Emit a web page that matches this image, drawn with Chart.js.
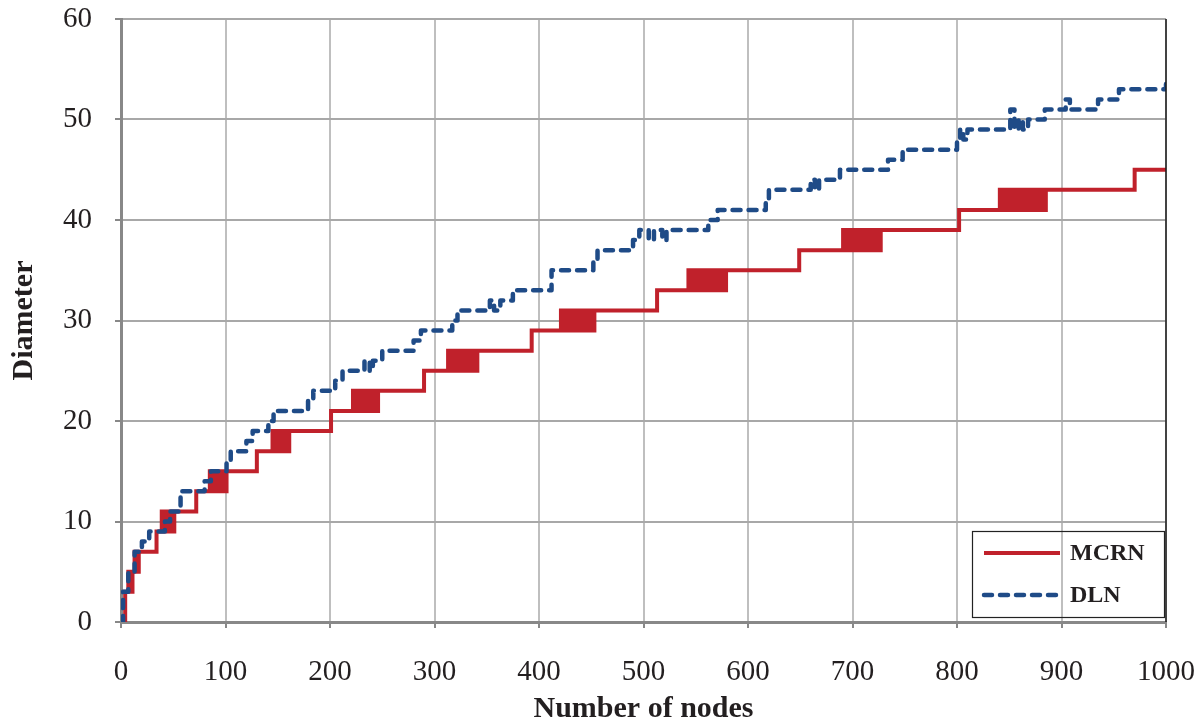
<!DOCTYPE html>
<html>
<head>
<meta charset="utf-8">
<script src="https://cdn.jsdelivr.net/npm/chart.js@4.4.1/dist/chart.umd.min.js"></script>
<style>
  html, body { margin: 0; padding: 0; background: #fff; }
  #wrap { width: 1202px; height: 723px; }
</style>
</head>
<body>
<div id="wrap"><canvas id="diameterChart" width="1202" height="723"></canvas></div>
<script>
// Network diameter vs. number of nodes (step breakpoints: value changes at x)
const xTickValues = [0, 100, 200, 300, 400, 500, 600, 700, 800, 900, 1000];
const yTickValues = [0, 10, 20, 30, 40, 50, 60];

const mcrnX = [
  0, 4,
  7, 9, 11,
  13, 15, 17,
  34,
  39, 41, 43, 45, 47, 49, 51,
  72,
  85, 87, 89, 91, 93, 95, 97, 99, 101,
  130,
  145, 147, 149, 151, 153, 155, 157, 159, 161,
  201,
  222, 224, 226, 228, 230, 232, 234, 236, 238, 240, 242, 244, 246,
  290,
  313, 315, 317, 319, 321, 323, 325, 327, 329, 331, 333, 335, 337, 339, 341,
  393,
  421, 423, 425, 427, 429, 431, 433, 435, 437, 439, 441, 443, 445, 447, 449, 451, 453,
  513,
  543, 545, 547, 549, 551, 553, 555, 557, 559, 561, 563, 565, 567, 569, 571, 573, 575, 577, 579,
  649,
  691, 693, 695, 697, 699, 701, 703, 705, 707, 709, 711, 713, 715, 717, 719, 721, 723, 725, 727,
  802,
  841, 843, 845, 847, 849, 851, 853, 855, 857, 859, 861, 863, 865, 867, 869, 871, 873, 875, 877, 879, 881, 883, 885,
  970,
  1000
];
const mcrnY = [
  0, 3,
  5, 3, 5,
  7, 5, 7,
  9,
  11, 9, 11, 9, 11, 9, 11,
  13,
  15, 13, 15, 13, 15, 13, 15, 13, 15,
  17,
  19, 17, 19, 17, 19, 17, 19, 17, 19,
  21,
  23, 21, 23, 21, 23, 21, 23, 21, 23, 21, 23, 21, 23,
  25,
  27, 25, 27, 25, 27, 25, 27, 25, 27, 25, 27, 25, 27, 25, 27,
  29,
  31, 29, 31, 29, 31, 29, 31, 29, 31, 29, 31, 29, 31, 29, 31, 29, 31,
  33,
  35, 33, 35, 33, 35, 33, 35, 33, 35, 33, 35, 33, 35, 33, 35, 33, 35, 33, 35,
  37,
  39, 37, 39, 37, 39, 37, 39, 37, 39, 37, 39, 37, 39, 37, 39, 37, 39, 37, 39,
  41,
  43, 41, 43, 41, 43, 41, 43, 41, 43, 41, 43, 41, 43, 41, 43, 41, 43, 41, 43, 41, 43, 41, 43,
  45,
  45
];

const dlnX = [0, 2, 7, 13, 20, 27, 42, 47, 57, 80, 86, 101, 105, 120, 126, 141, 146, 179, 184, 205,
  212, 233, 238, 241, 250, 280, 287, 317, 322, 353, 357, 363, 375, 412, 452, 456, 490, 496, 505, 510,
  518, 522, 562, 571, 617, 620, 660, 664, 668, 688, 734, 748, 800, 803, 806, 810, 851, 855, 859, 863,
  868, 884, 904, 908, 935, 955, 1000];
const dlnY = [0, 3, 5, 7, 8, 9, 10, 11, 13, 14, 15, 16, 17, 18, 19, 20, 21, 22, 23, 24,
  25, 26, 25, 26, 27, 28, 29, 30, 31, 32, 31, 32, 33, 35, 36, 37, 38, 39, 38, 39,
  38, 39, 40, 41, 42, 43, 44, 43, 44, 45, 46, 47, 48, 49, 48, 49, 51, 49, 50, 49,
  50, 51, 52, 51, 52, 53, 54];

const toPoints = (xs, ys) => xs.map((x, i) => ({ x, y: ys[i] }));

const SERIF = '"Liberation Serif", "Times New Roman", serif';
const INK = '#231f20';

// Boxed legend in the lower-right corner + dark right frame
const cornerLegend = {
  id: 'cornerLegend',
  afterDraw(chart) {
    const { ctx, chartArea: a } = chart;
    ctx.save();
    ctx.strokeStyle = '#1a1a1a';
    ctx.lineWidth = 1.5;
    ctx.beginPath();
    ctx.moveTo(a.right, a.top);
    ctx.lineTo(a.right, a.bottom);
    ctx.stroke();

    const w = 192, h = 86;
    const x0 = a.right - w - 2, y0 = a.bottom - h - 5;
    ctx.lineWidth = 1.2;
    ctx.strokeStyle = '#222';
    ctx.strokeRect(x0 + 0.5, y0 + 0.5, w, h);

    chart.data.datasets.forEach((ds, i) => {
      const y = y0 + 22 + i * 42;
      ctx.strokeStyle = ds.borderColor;
      ctx.lineWidth = ds.borderWidth;
      ctx.lineCap = ds.borderCapStyle || 'butt';
      ctx.setLineDash(ds.borderDash || []);
      ctx.beginPath();
      ctx.moveTo(x0 + 12, y);
      ctx.lineTo(x0 + 88, y);
      ctx.stroke();
      ctx.setLineDash([]);
      ctx.fillStyle = INK;
      ctx.font = 'bold 24px ' + SERIF;
      ctx.textBaseline = 'middle';
      ctx.fillText(ds.label, x0 + 98, y + 1);
    });
    ctx.restore();
  }
};

const ctx = document.getElementById('diameterChart').getContext('2d');
new Chart(ctx, {
  type: 'line',
  data: {
    datasets: [
      {
        label: 'MCRN',
        data: toPoints(mcrnX, mcrnY),
        borderColor: '#c0212b',
        borderWidth: 4,
        stepped: true,
        pointRadius: 0,
        order: 2
      },
      {
        label: 'DLN',
        data: toPoints(dlnX, dlnY),
        borderColor: '#1f4b87',
        borderWidth: 4.5,
        borderDash: [8, 8],
        borderCapStyle: 'round',
        borderJoinStyle: 'round',
        stepped: true,
        pointRadius: 0,
        order: 1
      }
    ]
  },
  options: {
    responsive: false,
    animation: false,
    devicePixelRatio: 1,
    layout: { padding: { top: 19, right: 36, left: 0, bottom: 0 } },
    plugins: {
      legend: { display: false },
      tooltip: { enabled: false }
    },
    scales: {
      x: {
        type: 'linear',
        min: 0,
        max: 1000,
        afterBuildTicks: axis => { axis.ticks = xTickValues.map(v => ({ value: v })); },
        afterFit: axis => {
          axis.height = 101;
          axis.paddingLeft = 0;
          axis.paddingRight = 0;
        },
        ticks: {
          font: { family: SERIF, size: 29 },
          color: INK,
          padding: 27,
          maxRotation: 0,
          callback: v => String(v)
        },
        grid: { color: '#bfbfbf', lineWidth: 2, tickLength: 6, tickColor: '#888' },
        border: { color: '#888', width: 3 },
        title: {
          display: true,
          text: 'Number of nodes',
          color: INK,
          font: { family: SERIF, size: 30, weight: 'bold', lineHeight: 0.9 },
          padding: { top: 0, bottom: 0 }
        }
      },
      y: {
        min: 0,
        max: 60,
        afterBuildTicks: axis => { axis.ticks = yTickValues.map(v => ({ value: v })); },
        afterFit: axis => {
          axis.width = 121;
          axis.paddingTop = 0;
          axis.paddingBottom = 0;
        },
        ticks: { font: { family: SERIF, size: 29 }, color: INK, padding: 23 },
        grid: { color: '#a8a8a8', lineWidth: 2, tickLength: 6, tickColor: '#888' },
        border: { color: '#888', width: 3 },
        title: {
          display: true,
          text: 'Diameter',
          color: INK,
          font: { family: SERIF, size: 30, weight: 'bold', lineHeight: 0.9 },
          padding: { top: 10.5, bottom: 0 }
        }
      }
    }
  },
  plugins: [cornerLegend]
});
</script>
</body>
</html>
